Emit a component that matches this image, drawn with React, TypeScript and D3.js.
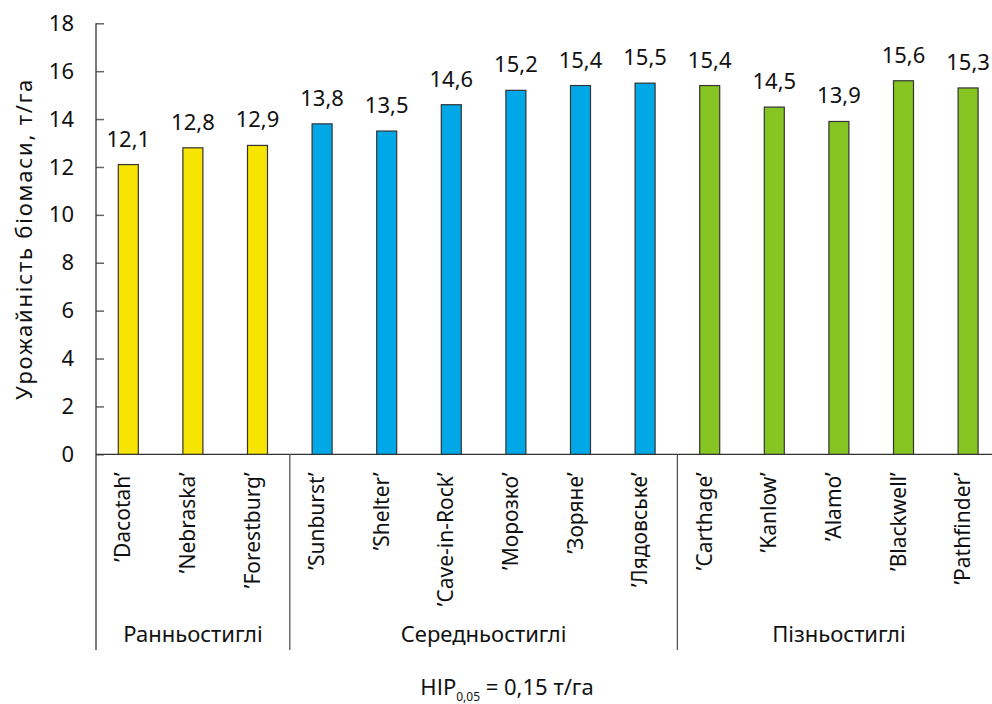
import React, { useEffect, useRef } from 'react';
import * as d3 from 'd3';

// Varieties, grouped by ripeness
const VARIETIES = [
  '’Dacotah’', '’Nebraska’', '’Forestburg’',
  '’Sunburst’', '’Shelter’', '’Cave-in-Rock’', '’Морозко’', '’Зоряне’', '’Лядовське’',
  '’Carthage’', '’Kanlow’', '’Alamo’', '’Blackwell’', '’Pathfinder’',
];
const YIELDS = [12.1, 12.8, 12.9, 13.8, 13.5, 14.6, 15.2, 15.4, 15.5, 15.4, 14.5, 13.9, 15.6, 15.3];
const GROUP_OF = [0, 0, 0, 1, 1, 1, 1, 1, 1, 2, 2, 2, 2, 2];
const GROUPS = ['Ранньостиглі', 'Середньостиглі', 'Пізньостиглі'];
const GROUP_COLORS = ['#f7e400', '#00a8e8', '#86c522'];
const Y_TICKS = [0, 2, 4, 6, 8, 10, 12, 14, 16, 18];

const FONT = '"Noto Sans", "Open Sans", sans-serif';

const App: React.FC = () => {
  const svgRef = useRef<SVGSVGElement>(null);

  useEffect(() => {
    document.body.style.margin = '0';
    if (!svgRef.current) return;

    const width = 992;
    const height = 704;
    const left = 96;
    const step = 64.6;
    const bottom = 454.3;
    const top = 23.3;
    const barW = 20;
    const groupLineEnd = 650;

    const svg = d3.select(svgRef.current);
    svg.selectAll('*').remove();
    svg.attr('width', width).attr('height', height);

    const x = d3.scaleBand<string>()
      .domain(VARIETIES)
      .range([left, left + step * VARIETIES.length])
      .padding(0);

    const y = d3.scaleLinear().domain([0, 18]).range([bottom, top]);

    const data = VARIETIES.map((name, i) => ({ name, value: YIELDS[i], group: GROUP_OF[i] }));
    const cx = (name: string) => (x(name) as number) + x.bandwidth() / 2;

    // Y axis with inward ticks
    const yAxis = d3.axisLeft(y)
      .tickValues(Y_TICKS)
      .tickSizeInner(-8)
      .tickSizeOuter(0)
      .tickPadding(22)
      .tickFormat(d3.format('d') as any);

    const yg = svg.append('g')
      .attr('transform', `translate(${left},0)`)
      .call(yAxis);
    yg.select('.domain').remove();
    yg.selectAll('line').attr('stroke', '#666').attr('stroke-width', 1.5);
    yg.selectAll('text')
      .attr('fill', '#111')
      .attr('font-family', FONT)
      .attr('font-size', 22);

    // Left axis line running down through the category block
    svg.append('line')
      .attr('x1', left).attr('x2', left)
      .attr('y1', top).attr('y2', groupLineEnd)
      .attr('stroke', '#333').attr('stroke-width', 1.3);

    // Baseline
    svg.append('line')
      .attr('x1', left).attr('x2', width)
      .attr('y1', y(0)).attr('y2', y(0))
      .attr('stroke', '#333').attr('stroke-width', 1.3);

    // Bars
    svg.append('g')
      .selectAll('rect')
      .data(data)
      .join('rect')
      .attr('x', d => cx(d.name) - barW / 2)
      .attr('y', d => y(d.value))
      .attr('width', barW)
      .attr('height', d => y(0) - y(d.value))
      .attr('fill', d => GROUP_COLORS[d.group])
      .attr('stroke', '#333')
      .attr('stroke-width', 1.2);

    // Value labels
    svg.append('g')
      .selectAll('text')
      .data(data)
      .join('text')
      .attr('x', d => cx(d.name))
      .attr('y', d => y(d.value) - 18)
      .attr('text-anchor', 'middle')
      .attr('font-family', FONT)
      .attr('font-size', 22)
      .attr('fill', '#111')
      .text(d => d3.format('.1f')(d.value).replace('.', ','));

    // Rotated variety names
    svg.append('g')
      .selectAll('text')
      .data(data)
      .join('text')
      .attr('transform', d => `translate(${cx(d.name) + 2},${y(0) + 18}) rotate(-90)`)
      .attr('text-anchor', 'end')
      .attr('font-family', FONT)
      .attr('font-size', 21)
      .attr('fill', '#111')
      .text(d => d.name);

    // Group separators and labels
    const groupRanges = GROUPS.map((g, gi) => {
      const idx = GROUP_OF.map((v, i) => (v === gi ? i : -1)).filter(i => i >= 0);
      const x0 = x(VARIETIES[idx[0]]) as number;
      const x1 = (x(VARIETIES[idx[idx.length - 1]]) as number) + x.bandwidth();
      return { name: g, x0, x1 };
    });

    svg.append('g')
      .selectAll('line')
      .data(groupRanges.slice(1))
      .join('line')
      .attr('x1', d => d.x0).attr('x2', d => d.x0)
      .attr('y1', y(0)).attr('y2', groupLineEnd)
      .attr('stroke', '#555').attr('stroke-width', 1.3);

    svg.append('g')
      .selectAll('text')
      .data(groupRanges)
      .join('text')
      .attr('x', d => (d.x0 + d.x1) / 2)
      .attr('y', 642)
      .attr('text-anchor', 'middle')
      .attr('font-family', FONT)
      .attr('font-size', 22)
      .attr('fill', '#111')
      .text(d => d.name);

    // Y title
    svg.append('text')
      .attr('transform', `translate(32,${(top + bottom) / 2}) rotate(-90)`)
      .attr('text-anchor', 'middle')
      .attr('font-family', FONT)
      .attr('font-size', 22)
      .attr('letter-spacing', 1.8)
      .attr('fill', '#111')
      .text('Урожайність біомаси, т/га');

    // LSD note
    const note = svg.append('text')
      .attr('x', 507)
      .attr('y', 695)
      .attr('text-anchor', 'middle')
      .attr('font-family', FONT)
      .attr('font-size', 22)
      .attr('fill', '#111');
    note.append('tspan').text('НІР');
    note.append('tspan').attr('font-size', 12).attr('dy', 6).text('0,05');
    note.append('tspan').attr('dy', -6).text(' = 0,15 т/га');
  }, []);

  return (
    <div style={{ width: 992, height: 704, background: '#fff' }}>
      <svg ref={svgRef} />
    </div>
  );
};

export default App;
